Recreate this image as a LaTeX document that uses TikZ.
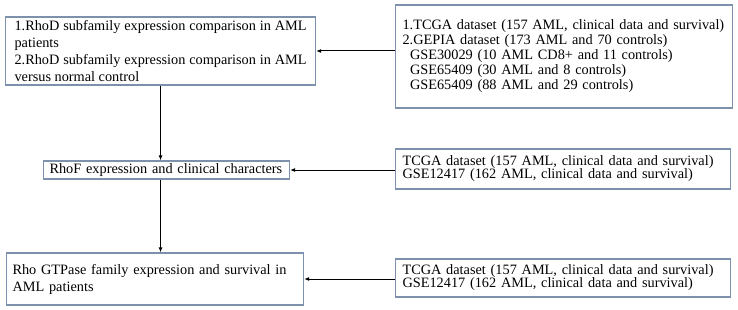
\documentclass[tikz,border=0pt]{standalone}
\usepackage{fontspec}
\setmainfont{Liberation Serif}
\usepackage{xcolor}
\usepackage{tikz}
\usetikzlibrary{arrows.meta}

\definecolor{boxline}{RGB}{125,144,172}

\begin{document}
\begin{tikzpicture}[x=1pt,y=-1pt,
  box/.style={draw=boxline,line width=1.1pt,anchor=west,inner ysep=1pt,font=\fontsize{14.3}{17}\selectfont},
  databox/.style={box,align=left},
  arr/.style={-{Latex[length=5pt,width=4pt]},line width=1pt}]
\useasboundingbox (0,0) rectangle (738,310);
% left column
\node[box,align=justify,text width=292pt,inner xsep=9pt,minimum height=68pt] (comp) at (5,51)
  {1.RhoD subfamily expression comparison in AML\linebreak patients\\
   2.RhoD subfamily expression comparison in AML\linebreak versus normal control};
\node[box,align=left,text width=234pt,inner xsep=6pt,minimum height=18pt] (rhof) at (43,170)
  {RhoF expression and clinical characters};
\node[box,align=left,text width=285pt,inner xsep=6pt,minimum height=52pt] (surv) at (6,279)
  {Rho GTPase family expression and survival in\\ AML patients};
% right column
\node[databox,text width=323pt,inner xsep=7pt,minimum height=103pt,font=\fontsize{14.3}{15}\selectfont] (data1) at (395,56.5)
  {1.TCGA dataset (157 AML, clinical data and survival)\\
   2.GEPIA dataset (173 AML and 70 controls)\\
   \hspace*{7.5pt}GSE30029 (10 AML CD8+ and 11 controls)\\
   \hspace*{7.5pt}GSE65409 (30 AML and 8 controls)\\
   \hspace*{7.5pt}GSE65409 (88 AML and 29 controls)};
\node[databox,text width=321pt,inner xsep=7pt,minimum height=40pt,font=\fontsize{14.3}{13}\selectfont] (data2) at (395,169)
  {TCGA dataset (157 AML, clinical data and survival)\\
   GSE12417 (162 AML, clinical data and survival)};
\node[databox,text width=321pt,inner xsep=7pt,minimum height=38pt,font=\fontsize{14.3}{13}\selectfont] (data3) at (395,278)
  {TCGA dataset (157 AML, clinical data and survival)\\
   GSE12417 (162 AML, clinical data and survival)};
% connectors
\draw[arr] (comp.south) -- (comp.south |- rhof.north);
\draw[arr] (rhof.south -| comp.south) -- (comp.south |- surv.north);
\draw[arr] (comp.east -| data1.west) -- (comp.east);
\draw[arr] (rhof.east -| data2.west) -- (rhof.east);
\draw[arr] (surv.east -| data3.west) -- (surv.east);
\end{tikzpicture}
\end{document}
